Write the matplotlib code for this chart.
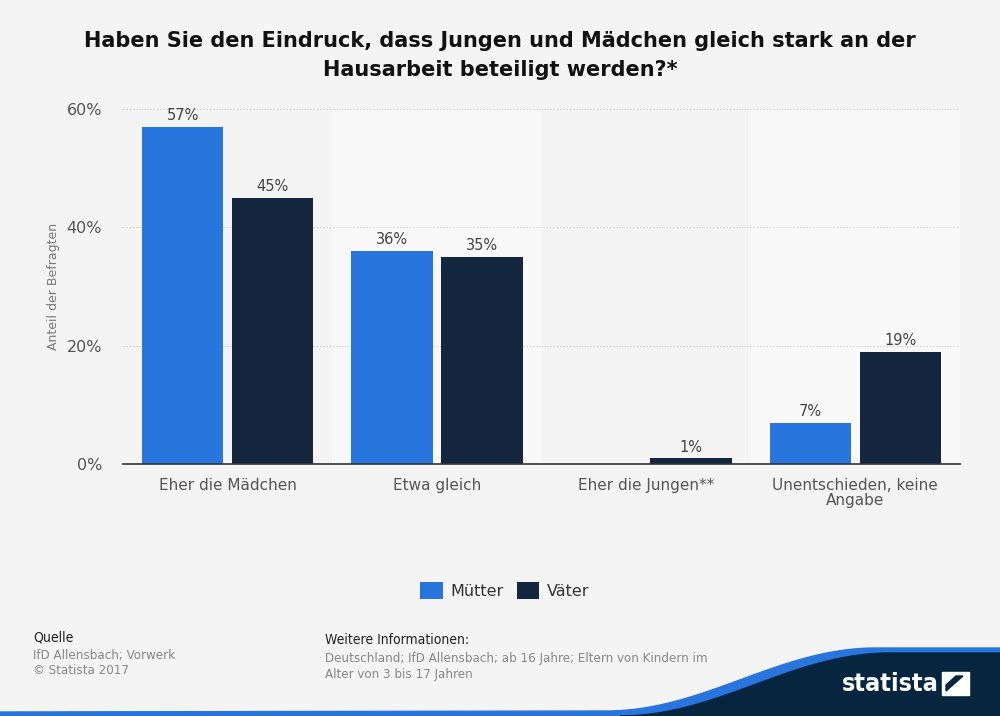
import matplotlib
matplotlib.use("Agg")
import matplotlib.pyplot as plt
import numpy as np
from matplotlib.patches import Polygon, Rectangle

categories = ["Eher die Mädchen", "Etwa gleich", "Eher die Jungen**", "Unentschieden, keine\nAngabe"]
muetter = [57, 36, 0, 7]
vaeter = [45, 35, 1, 19]
series_names = ["Mütter", "Väter"]
yticks = [0, 20, 40, 60]

BG = "#f4f4f4"
BLUE = "#2876dd"
NAVY = "#14273e"
LOGO_NAVY = "#05263e"

fig = plt.figure(figsize=(10, 7.16), dpi=100, facecolor=BG)
ax = fig.add_axes([0.123, 0.352, 0.837, 0.4958])
ax.set_facecolor(BG)

x = np.arange(len(categories))
w = 0.39
gap = 0.04
for i in range(len(categories)):
    if i % 2 == 1:
        ax.axvspan(i - 0.5, i + 0.5, color="#f9f9f9", zorder=0, lw=0)

b1 = ax.bar(x - (w + gap) / 2, muetter, w, color=BLUE, zorder=3, label=series_names[0])
b2 = ax.bar(x + (w + gap) / 2, vaeter, w, color=NAVY, zorder=3, label=series_names[1])

for bars, vals in ((b1, muetter), (b2, vaeter)):
    for b, v in zip(bars, vals):
        if v == 0:
            continue
        ax.text(b.get_x() + b.get_width() / 2, v + 0.6, f"{v}%", ha="center", va="bottom",
                fontsize=10.5, color="#444444", zorder=4)

ax.set_xlim(-0.5, len(categories) - 0.5)
ax.set_ylim(0, 60)
ax.set_yticks(yticks)
ax.set_yticklabels([f"{t}%" for t in yticks], fontsize=11.5, color="#555555")
ax.set_xticks(x)
ax.set_xticklabels(categories, fontsize=11, color="#555555", linespacing=1.05)
ax.tick_params(axis="x", length=0, pad=10)
ax.tick_params(axis="y", length=0, pad=15)
ax.yaxis.grid(True, color="#c8c8c8", linestyle=(0, (1, 2)), lw=0.8, zorder=1)
for s in ["top", "right", "left"]:
    ax.spines[s].set_visible(False)
ax.spines["bottom"].set_color("#333333")
ax.spines["bottom"].set_linewidth(1.2)
ax.spines["bottom"].set_zorder(5)
ax.set_ylabel("Anteil der Befragten", fontsize=9, color="#777777", labelpad=5)

fig.text(0.5, 0.922, "Haben Sie den Eindruck, dass Jungen und Mädchen gleich stark an der\nHausarbeit beteiligt werden?*",
         ha="center", va="center", fontsize=15, fontweight="bold", color="#111111", linespacing=1.55)

leg = fig.legend(handles=[b1, b2], loc="center", bbox_to_anchor=(0.505, 0.175), ncol=2, frameon=False,
                 fontsize=11.5, handlelength=1.4, handleheight=1.2, handletextpad=0.5, columnspacing=0.8)
for t in leg.get_texts():
    t.set_color("#333333")

# footer
cf = dict(family="DejaVu Sans", stretch="condensed")
fig.text(0.033, 0.109, "Quelle", fontsize=10, color="#222222", va="center", **cf)
fig.text(0.033, 0.085, "IfD Allensbach; Vorwerk", fontsize=9.5, color="#888888", va="center", **cf)
fig.text(0.033, 0.063, "© Statista 2017", fontsize=9.5, color="#888888", va="center", **cf)
fig.text(0.325, 0.106, "Weitere Informationen:", fontsize=10, color="#222222", va="center", **cf)
fig.text(0.325, 0.069, "Deutschland; IfD Allensbach; ab 16 Jahre; Eltern von Kindern im\nAlter von 3 bis 17 Jahren",
         fontsize=9.5, color="#888888", va="center", linespacing=1.3, **cf)

# statista wave
H = 716.0
t = np.linspace(0, 1, 100)
s = (1 - np.cos(np.pi * t)) / 2
xn = 620 + 270 * t
yn = 63 * s
xb = xn - 14
yb = np.maximum(yn + 5, 4)
wave_blue = np.column_stack([np.r_[0.0, 0.0, xb / 1000, 1.0, 1.0], np.r_[0.0, 4 / H, yb / H, yb[-1] / H, 0.0]])
fig.patches.append(Polygon(wave_blue, closed=True, transform=fig.transFigure, color=BLUE, zorder=1))
wave_navy = np.column_stack([np.r_[xn / 1000, 1.0, 1.0], np.r_[yn / H, yn[-1] / H, 0.0]])
fig.patches.append(Polygon(wave_navy, closed=True, transform=fig.transFigure, color=LOGO_NAVY, zorder=2))
fig.text(0.890, 0.045, "statista", fontsize=18, fontweight="bold", color="white", ha="center", va="center",
         zorder=4, **cf)
fig.patches.append(Rectangle((0.942, 21 / H), 0.027, 23 / H, transform=fig.transFigure, color="white", zorder=4))
fig.patches.append(Polygon([[0.946, 25 / H], [0.963, 40 / H], [0.956, 40 / H], [0.946, 31 / H]], closed=True,
                           transform=fig.transFigure, color=LOGO_NAVY, zorder=5))

fig.savefig("out.png", dpi=100, facecolor=BG)
